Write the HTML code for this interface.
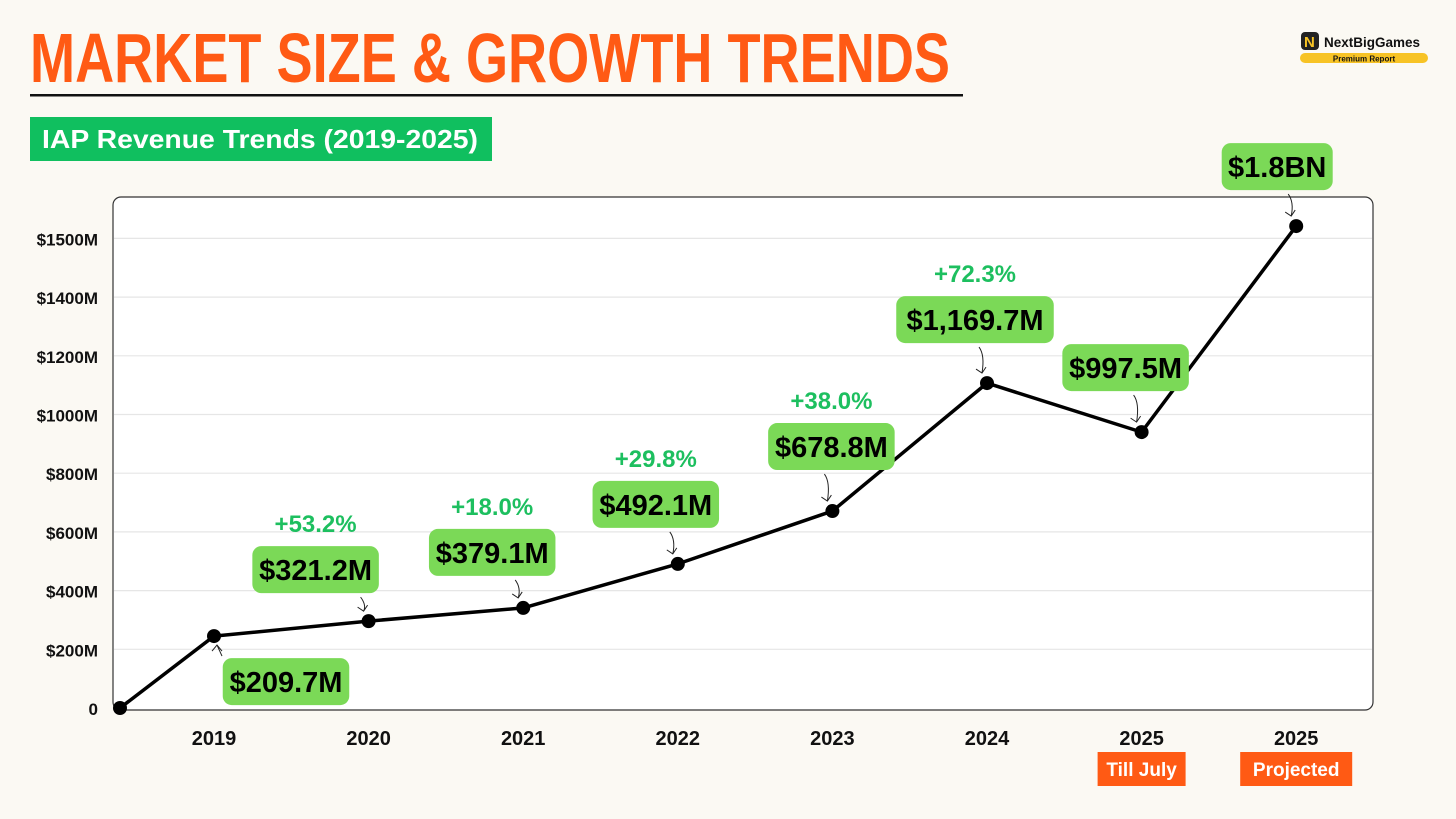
<!DOCTYPE html>
<html><head><meta charset="utf-8"><style>
body{margin:0;background:#fbf9f3;font-family:"Liberation Sans",sans-serif}
svg{display:block}
</style></head><body>
<svg id="c" width="1456" height="819" viewBox="0 0 1456 819" xmlns="http://www.w3.org/2000/svg">
<rect width="1456" height="819" fill="#fbf9f3"/>
<text x="30" y="82" font-size="70" font-weight="bold" fill="#ff5a14" textLength="920" lengthAdjust="spacingAndGlyphs">MARKET SIZE &amp; GROWTH TRENDS</text>
<rect x="30" y="94" width="933" height="2.5" fill="#111"/>
<rect x="30" y="117" width="462" height="44" fill="#10bf5f"/>
<text x="42" y="148" font-size="26" font-weight="bold" fill="#fff" textLength="436" lengthAdjust="spacingAndGlyphs">IAP Revenue Trends (2019-2025)</text>
<g>
<rect x="1301" y="32" width="18" height="18" rx="4" fill="#222"/><text x="1304" y="47" font-size="15" font-weight="bold" fill="#f7c325">N</text>
<text x="1324" y="47" font-size="14" font-weight="bold" fill="#111" textLength="96" lengthAdjust="spacingAndGlyphs">NextBigGames</text>
<rect x="1300" y="53" width="128" height="10" rx="5" fill="#f7c325"/>
<text x="1364" y="61.5" font-size="8" font-weight="bold" fill="#111" text-anchor="middle">Premium Report</text>
</g>
<rect x="113" y="197" width="1260" height="513" rx="8" fill="#fff" stroke="#333" stroke-width="1.2"/>
<g id="grid"></g><g id="line"></g><g id="ann"></g>
</svg>
<script>
const categories=["","2019","2020","2021","2022","2023","2024","2025","2025"];
const values=[0,245,296,341,491,671,1107,940,1642];
const tickValues=[0,200,400,600,800,1000,1200,1400,1600];
const tickLabels=["0","$200M","$400M","$600M","$800M","$1000M","$1200M","$1400M","$1500M"];
const valueLabels=["","$209.7M","$321.2M","$379.1M","$492.1M","$678.8M","$1,169.7M","$997.5M","$1.8BN"];
const growthLabels=["","","+53.2%","+18.0%","+29.8%","+38.0%","+72.3%","",""];
const subTags=["","","","","","","","Till July","Projected"];
const NS="http://www.w3.org/2000/svg";
const y=v=>708-v*(708-238.4)/1600;
const x=i=>i===0?120:214+(i-1)*154.6;
function mk(t,a,p,txt){const e=document.createElementNS(NS,t);for(const k in a)e.setAttribute(k,a[k]);if(txt!==undefined)e.textContent=txt;p.appendChild(e);return e;}
const grid=document.getElementById('grid'),line=document.getElementById('line'),ann=document.getElementById('ann');
tickValues.forEach((v,i)=>{
 if(i>0){const g=mk('line',{x1:114,x2:1372,y1:y(v),y2:y(v),stroke:'#e6e6e6','stroke-width':1.2},grid);
 
 }
 const t=mk('text',{x:98,y:y(v)+7,'font-size':17,'font-weight':'bold','text-anchor':'end',fill:'#111'},grid,tickLabels[i]);
 
 
});
categories.forEach((c,i)=>{
 if(!c)return;
 const t=mk('text',{x:x(i),y:745,'font-size':20,'font-weight':'bold','text-anchor':'middle',fill:'#111'},grid,c);
 
 
 if(subTags[i]){const w=subTags[i]==="Projected"?112:88;
  const r=mk('rect',{x:x(i)-w/2,y:752,width:w,height:34,fill:'#ff5a14'},grid);
  
  
  const tt=mk('text',{x:x(i),y:776,'font-size':19,'font-weight':'bold','text-anchor':'middle',fill:'#fff'},grid,subTags[i]);
  
  }
});
const pts=values.map((v,i)=>x(i)+','+y(v)).join(' ');
const pl=mk('polyline',{points:pts,fill:'none',stroke:'#000','stroke-width':3.5,'stroke-linejoin':'round'},line);


values.forEach((v,i)=>{
 const c=mk('circle',{cx:x(i),cy:y(v),r:7,fill:'#000'},line);
 
 
});
// annotation offsets (label center dx, box top dy relative to point)
const off=[null,[72,22],[-53,-75],[-31,-79],[-22,-83],[-1,-88],[-12,-87],[-16,-88],[-19,-83]];
valueLabels.forEach((lab,i)=>{
 if(!lab)return;
 const px=x(i),py=y(values[i]);
 const cx=px+off[i][0],top=py+off[i][1];
 const w=lab.length*15.5+18,h=47;
 const r=mk('rect',{x:cx-w/2,y:top,width:w,height:h,rx:9,fill:'#7bd957'},ann);
 
 
 const t=mk('text',{x:cx,y:top+34,'font-size':29,'font-weight':'bold','text-anchor':'middle',fill:'#000'},ann,lab);
 
 
 // small arrow
 let d;
 if(i===1){d=`M${px+8} ${top-2} L${px+3} ${py+9} M${px-2} ${py+15} L${px+3} ${py+9} L${px+8} ${py+15}`;}
 else {const ay=top+h+4;d=`M${px-8} ${ay} Q${px-2} ${ay+8} ${px-5} ${py-10} M${px-11} ${py-14} L${px-5} ${py-10} L${px-1} ${py-16}`;}
 const a=mk('path',{d:d,fill:'none',stroke:'#222','stroke-width':1},ann);
 
 
 if(growthLabels[i]){
  const g=mk('text',{x:cx,y:top-14,'font-size':24,'font-weight':'bold','text-anchor':'middle',fill:'#1dbf5f'},ann,growthLabels[i]);
  
  
 }
});
</script>
</body></html>
